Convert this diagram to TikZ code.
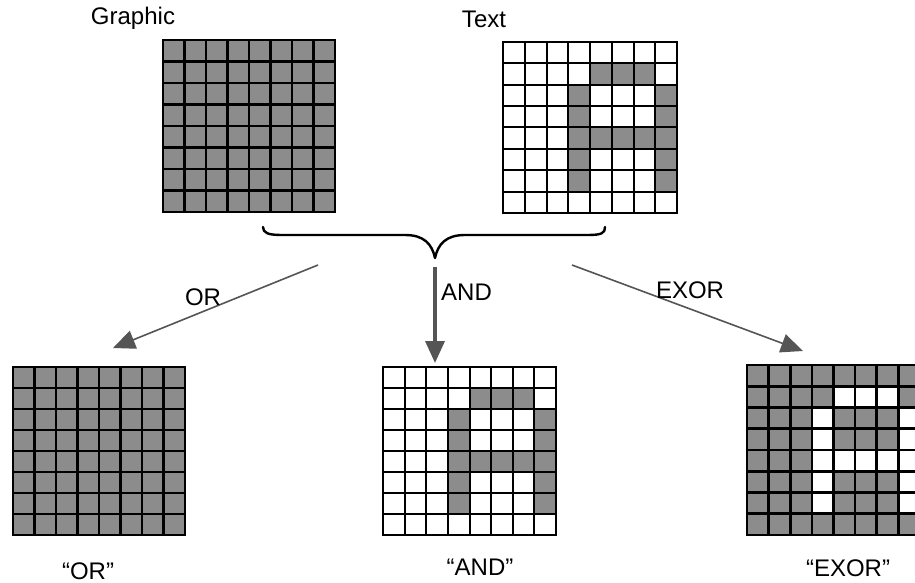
\documentclass[tikz,border=0pt]{standalone}
\usepackage{fontspec}
\setmainfont{Liberation Sans}
\usetikzlibrary{arrows.meta}

\definecolor{cellgray}{RGB}{140,140,140}
\definecolor{arrowgray}{RGB}{85,85,85}
\definecolor{shaftgray}{RGB}{105,105,105}

% cells of the letter R, as row/column (row 0 on top)
\newcommand\Rcells{1/4,1/5,1/6,2/3,2/7,3/3,3/7,4/3,4/4,4/5,4/6,4/7,5/3,5/7,6/3,6/7}

% 8x8 pixel grid: #1 name, #2 left, #3 top, #4 width, #5 height,
% #6 background colour, #7 colour of the R cells, #8 line width
\newcommand\pixgrid[8]{%
  \begin{scope}[shift={(#2,#3)}, xscale=#4/8, yscale=#5/8]
    \node[inner sep=0pt, minimum width=#4pt, minimum height=#5pt] (#1) at (4,4) {};
    \fill[#6] (0,0) rectangle (8,8);
    \foreach \r/\c in \Rcells {\fill[#7] (\c,\r) rectangle ++(1,1);}
    \foreach \k in {0,...,8} {
      \draw[line width=#8, line cap=rect] (\k,0) -- (\k,8);
      \draw[line width=#8, line cap=rect] (0,\k) -- (8,\k);
    }
  \end{scope}%
}

\tikzset{
  lbl/.style={font=\fontsize{24}{28}\selectfont, inner sep=0pt},
  oparrow/.style={draw=arrowgray, line width=1.6pt,
    -{Triangle[length=22pt,width=19pt]}, arrowgray},
  andarrow/.style={draw=shaftgray, line width=3.5pt,
    -{Triangle[length=22pt,width=19pt]}, arrowgray},
  brace/.style={draw=black, line width=2.4pt, line cap=round, line join=round},
}

\begin{document}
\begin{tikzpicture}[x=1pt, y=-1pt]
  \useasboundingbox (0,0) rectangle (915,583);
  \clip (0,0) rectangle (915,583);
  \fill[white] (0,0) rectangle (915,583);

  % source images
  \pixgrid{graphic}{163}{40}{172}{172}{cellgray}{cellgray}{2.6pt}
  \pixgrid{text}{503}{42}{174}{171}{white}{cellgray}{2pt}

  % results
  \pixgrid{orres}{13}{367}{172}{168}{cellgray}{cellgray}{2.6pt}
  \pixgrid{andres}{383}{367}{173}{168}{white}{cellgray}{2pt}
  \pixgrid{exorres}{747}{365}{173}{170}{cellgray}{white}{2.6pt}

  % titles
  \node[lbl, anchor=base] (tgraphic) at (133,25) {Graphic};
  \node[lbl, anchor=base] (ttext) at (484,28) {Text};

  % brace joining both sources
  \coordinate (tip) at (435,258);
  \draw[brace] (263,227) .. controls (263,233) and (268,235) .. (282,235)
    -- (405,235) .. controls (424,235) and (432,244) .. (tip)
    .. controls (438,244) and (446,235) .. (465,235)
    -- (588,235) .. controls (602,235) and (605,233) .. (605,227);

  % operation arrows
  \coordinate (orstart) at (318,265);
  \coordinate (orend) at (113,348);
  \coordinate (andstart) at (435,267);
  \coordinate (andend) at (435,363);
  \coordinate (exstart) at (572,265);
  \coordinate (exend) at (803,351);
  \draw[oparrow] (orstart) -- (orend);
  \draw[andarrow] (andstart) -- (andend);
  \draw[oparrow] (exstart) -- (exend);

  \node[lbl] (lor) at (203,297) {OR};
  \node[lbl, anchor=west] (land) at (441,292) {AND};
  \node[lbl] (lexor) at (690,290) {EXOR};

  % result captions
  \node[lbl] (cor) at (88,571) {“OR”};
  \node[lbl] (cand) at (480,567) {“AND”};
  \node[lbl] (cexor) at (848,568) {“EXOR”};
\end{tikzpicture}
\end{document}
